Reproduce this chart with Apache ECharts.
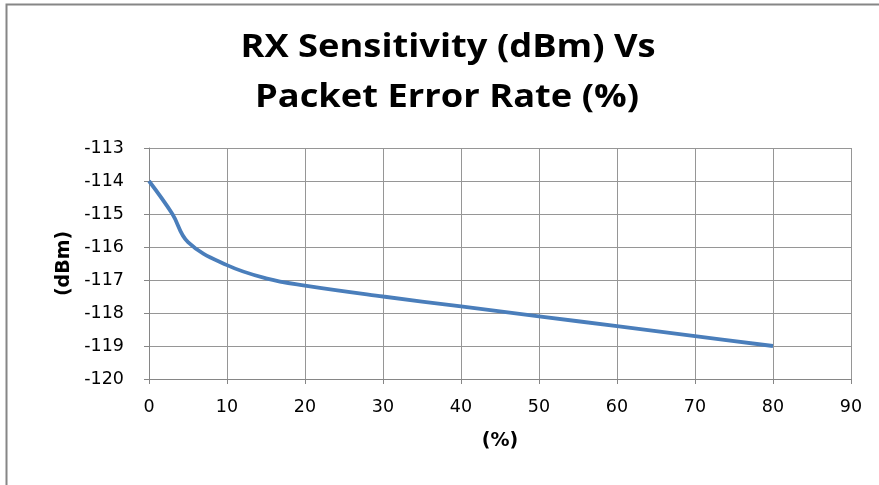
<!DOCTYPE html>
<html><head><meta charset="utf-8">
<script src="https://cdn.jsdelivr.net/npm/echarts@6/dist/echarts.min.js"></script>
<style>html,body{margin:0;padding:0;background:#fff}#c{width:879px;height:485px}</style>
</head><body><div id="c"></div>
<script>
const titleLines = ['RX Sensitivity (dBm) Vs', 'Packet Error Rate (%)'];
const xName = '(%)';
const yName = '(dBm)';
const perValues = [0, 3, 5, 10, 15, 20, 30, 40, 50, 60, 70, 80];
const sensValues = [-114, -115, -115.85, -116.55, -116.95, -117.17, -117.5, -117.8, -118.1, -118.4, -118.7, -119];

const chart = echarts.init(document.getElementById('c'));
const font = '"DejaVu Sans", sans-serif';
const titleStyle = (t) => ({
  text: t, x: 0, y: 0, textAlign: 'center', textVerticalAlign: 'middle',
  font: 'bold 33px "Open Sans", sans-serif', fill: '#000'
});
chart.setOption({
  animation: false,
  graphic: [{
    type: 'polyline', silent: true,
    shape: { points: [[6.5, 490], [6.5, 4.5], [885, 4.5]] },
    style: { stroke: '#868686', lineWidth: 2, fill: null }
  }, {
    type: 'text', silent: true, x: 448, y: 48, scaleX: 1.1,
    style: titleStyle(titleLines[0])
  }, {
    type: 'text', silent: true, x: 447, y: 98, scaleX: 1.1,
    style: titleStyle(titleLines[1])
  }],
  grid: { left: 149, right: 28, top: 148, bottom: 106 },
  xAxis: {
    type: 'value', min: 0, max: 90, interval: 10,
    name: xName, nameLocation: 'middle', nameGap: 53,
    nameTextStyle: { fontFamily: font, fontSize: 19, fontWeight: 'bold', color: '#000' },
    axisLine: { lineStyle: { color: '#868686', width: 1 } },
    axisTick: { show: true, length: 5, lineStyle: { color: '#868686' } },
    axisLabel: { fontFamily: font, fontSize: 17.5, color: '#000', margin: 19 },
    splitLine: { show: true, lineStyle: { color: '#969696', width: 1 } }
  },
  yAxis: {
    type: 'value', min: -120, max: -113, interval: 1,
    name: yName, nameLocation: 'middle', nameGap: 75, nameRotate: 90,
    nameTextStyle: { fontFamily: font, fontSize: 19, fontWeight: 'bold', color: '#000' },
    axisLine: { show: true, lineStyle: { color: '#868686', width: 1 } },
    axisTick: { show: true, length: 5, lineStyle: { color: '#868686' } },
    axisLabel: { fontFamily: font, fontSize: 17.5, color: '#000', margin: 25 },
    splitLine: { show: true, lineStyle: { color: '#969696', width: 1 } }
  },
  series: [{
    type: 'line',
    data: perValues.map((x, i) => [x, sensValues[i]]),
    smooth: 0.4,
    showSymbol: false,
    lineStyle: { color: '#4a7ebb', width: 3.8 }
  }]
});
</script></body></html>
